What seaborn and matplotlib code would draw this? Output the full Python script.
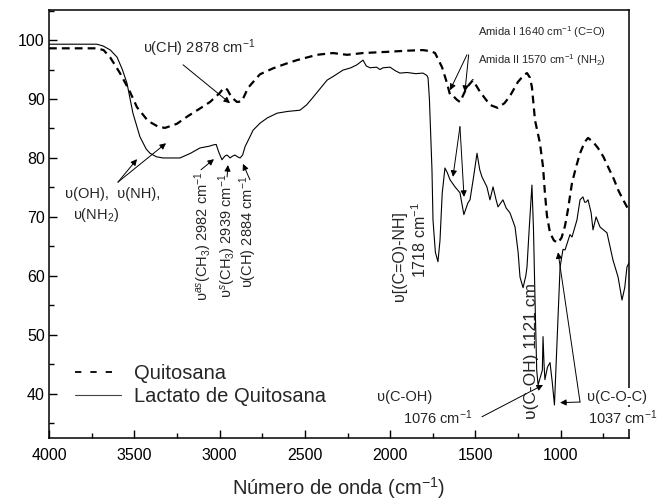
import numpy as np
import pandas as pd
import matplotlib
matplotlib.use("Agg")
import matplotlib.pyplot as plt
import seaborn as sns
from matplotlib.ticker import MultipleLocator
from matplotlib.lines import Line2D

# ---------------- data ----------------
quit_x = [4000, 3720, 3680, 3640, 3584, 3530, 3484, 3420, 3360, 3320, 3250, 3191, 3120,
          3056, 3000, 2975, 2955, 2930, 2898, 2870, 2833, 2800, 2763, 2687, 2600, 2546,
          2429, 2335, 2253, 2159, 2019, 1900, 1808, 1760, 1737, 1696, 1667, 1649, 1630,
          1610, 1591, 1550, 1515, 1473, 1415, 1370, 1330, 1298, 1251, 1215, 1198, 1180,
          1169, 1151, 1122, 1104, 1093, 1081, 1063, 1040, 1016, 995, 975, 958, 934, 910,
          887, 860, 840, 810, 782, 750, 723, 690, 664, 640, 612, 600]
quit_y = [98.6, 98.6, 98.3, 97.0, 94.4, 91.5, 88.6, 86.3, 85.3, 85.1, 85.8, 87.0, 88.3,
          89.5, 91.0, 91.9, 91.6, 90.3, 89.5, 89.6, 91.9, 93.0, 94.2, 95.2, 96.1, 96.6,
          97.5, 97.8, 97.5, 97.8, 98.0, 98.2, 98.3, 98.1, 97.8, 95.4, 92.7, 90.7, 90.5,
          89.9, 89.5, 92.0, 93.2, 91.2, 89.0, 88.5, 89.3, 90.5, 92.9, 94.1, 94.4, 93.6,
          92.0, 86.4, 82.5, 78.5, 74.1, 70.2, 67.3, 66.0, 65.6, 66.5, 68.5, 71.2, 75.8, 78.5,
          80.8, 82.7, 83.4, 82.7, 81.7, 80.2, 78.5, 76.5, 74.6, 73.2, 71.7, 71.2]

lact_x = [4000, 3720, 3683, 3640, 3601, 3570, 3543, 3508, 3467, 3430, 3408, 3370, 3332,
          3232, 3170, 3115, 3060, 3039, 3020, 3005, 2986, 2970, 2957, 2945, 2939, 2925,
          2910, 2895, 2880, 2865, 2851, 2822, 2804, 2763, 2720, 2663, 2600, 2529, 2490,
          2452, 2410, 2370, 2330, 2277, 2230, 2195, 2159, 2140, 2118, 2080, 2060, 2042,
          2001, 1970, 1943, 1900, 1850, 1808, 1785, 1778, 1770, 1767, 1755, 1749, 1735,
          1720, 1708, 1695, 1679, 1665, 1649, 1620, 1591, 1568, 1544, 1532, 1510, 1491,
          1475, 1462, 1433, 1415, 1397, 1380, 1368, 1339, 1320, 1298, 1268, 1250, 1239,
          1221, 1205, 1198, 1185, 1169, 1160, 1151, 1141, 1133, 1118, 1108, 1104, 1098, 1093,
          1078, 1063, 1050, 1037, 1020, 1004, 987, 975, 946, 934, 905, 887, 870, 860,
          852, 840, 822, 811, 793, 770, 729, 694, 664, 641, 625, 612, 600]
lact_y = [99.3, 99.3, 99.0, 98.3, 97.1, 95.0, 92.7, 87.6, 83.6, 81.5, 80.8, 80.2, 80.0,
          80.0, 80.8, 81.7, 82.0, 82.2, 82.3, 81.0, 79.7, 80.3, 80.5, 80.2, 80.0, 80.3,
          80.5, 80.2, 80.0, 80.5, 81.9, 83.6, 84.7, 85.9, 86.8, 87.6, 87.9, 88.1, 89.0,
          90.3, 91.8, 93.2, 93.9, 94.9, 95.3, 95.8, 96.6, 95.6, 95.3, 95.4, 95.0, 95.3,
          95.4, 94.8, 94.4, 94.5, 94.3, 94.4, 94.0, 93.6, 90.0, 87.6, 78.0, 69.5, 64.0,
          62.4, 66.0, 74.0, 78.3, 77.5, 76.3, 75.1, 74.1, 70.4, 72.4, 72.9, 77.0, 80.8,
          78.0, 76.8, 75.1, 72.9, 75.1, 73.0, 71.7, 72.9, 71.5, 70.7, 68.3, 64.0, 59.8,
          58.0, 60.0, 61.5, 68.0, 75.4, 68.0, 56.0, 44.0, 41.5, 43.0, 44.0, 49.7, 45.0, 42.4,
          44.5, 45.3, 42.0, 38.1, 50.0, 61.5, 64.5, 64.4, 67.0, 66.6, 69.5, 72.9, 73.4, 72.5,
          72.5, 72.9, 70.7, 67.8, 70.0, 68.3, 67.3, 62.7, 59.8, 55.9, 58.0, 61.5, 62.2]

series_labels = ["Quitosana", "Lactato de Quitosana"]
x_ticks = [4000, 3500, 3000, 2500, 2000, 1500, 1000]
y_ticks = [40, 50, 60, 70, 80, 90, 100]

# ---------------- style ----------------
sns.set_theme(style="ticks")
plt.rcParams["font.family"] = ["Liberation Sans", "DejaVu Sans"]
plt.rcParams["mathtext.fontset"] = "custom"
plt.rcParams["mathtext.rm"] = "Liberation Sans"
plt.rcParams["mathtext.it"] = "Liberation Sans:italic"
plt.rcParams["mathtext.bf"] = "Liberation Sans:bold"

fig = plt.figure(figsize=(6.61, 5.01), dpi=100)
ax = fig.add_axes([49 / 661, 1 - 438 / 501, 580 / 661, 428 / 501])

df_q = pd.DataFrame({"x": quit_x, "y": quit_y})
df_l = pd.DataFrame({"x": lact_x, "y": lact_y})

sns.lineplot(data=df_q, x="x", y="y", ax=ax, sort=False, estimator=None,
             color="black", lw=1.6)
ax.lines[-1].set_dashes([3.5, 2.3])
sns.lineplot(data=df_l, x="x", y="y", ax=ax, sort=False, estimator=None,
             color="black", lw=0.8)

ax.set_xlim(4000, 600)
ax.set_ylim(32.5, 105.1)
ax.set_xticks(x_ticks)
ax.set_yticks(y_ticks)
ax.xaxis.set_minor_locator(MultipleLocator(250))
ax.yaxis.set_minor_locator(MultipleLocator(5))
ax.tick_params(which="both", direction="in", top=False, right=False, colors="black",
               width=1.0)
ax.tick_params(which="major", length=6)
ax.tick_params(which="minor", length=3.5)
ax.tick_params(axis="x", labelsize=11.5, pad=7)
ax.tick_params(axis="y", labelsize=11.5, pad=3)
for s in ax.spines.values():
    s.set_visible(True)
    s.set_linewidth(1.1)
    s.set_color("black")
ax.set_xlabel("Número de onda (cm$^{-1}$)", fontsize=14.5, labelpad=9)
ax.set_ylabel("")

h_q = Line2D([], [], color="black", lw=1.3, dashes=[3.5, 5])
h_l = Line2D([], [], color="#444444", lw=0.8)
ax.legend([h_q, h_l], series_labels, loc="lower left",
          bbox_to_anchor=(0.045, 0.075), frameon=False, fontsize=14.5,
          handlelength=2.3, handletextpad=0.6, labelspacing=0.2,
          borderpad=0, borderaxespad=0)

# ---------------- annotations ----------------
ap = dict(arrowstyle="-|>", color="black", lw=0.7, mutation_scale=9, shrinkA=0, shrinkB=0)
fs = 10.5

ax.annotate("", xy=(2939, 89.3), xytext=(3214, 95.8), arrowprops=ap)
ax.text(3449, 98.6, "υ(CH) 2878 cm$^{-1}$", fontsize=fs, ha="left", va="center")

ax.text(3906, 73.9, "υ(OH),  υ(NH),", fontsize=fs, ha="left", va="center")
ax.text(3859, 70.3, "υ(NH$_2$)", fontsize=fs, ha="left", va="center")
ax.annotate("", xy=(3484, 79.8), xytext=(3596, 75.9), arrowprops=ap)
ax.annotate("", xy=(3314, 82.5), xytext=(3596, 75.9), arrowprops=ap)

ax.text(3097, 66.8, "υ$^{as}$(CH$_3$) 2982 cm$^{-1}$", fontsize=10.5, rotation=90,
        ha="center", va="center")
ax.text(2956, 66.8, "υ$^{s}$(CH$_3$) 2939 cm$^{-1}$", fontsize=10.5, rotation=90,
        ha="center", va="center")
ax.text(2833, 67.5, "υ(CH) 2884 cm$^{-1}$", fontsize=10.5, rotation=90,
        ha="center", va="center")
ax.annotate("", xy=(3033, 79.8), xytext=(3109, 78.0), arrowprops=ap)
ax.annotate("", xy=(2951, 78.8), xytext=(2956, 76.8), arrowprops=ap)
ax.annotate("", xy=(2863, 79.0), xytext=(2822, 76.3), arrowprops=ap)

ax.text(1948, 63.4, "υ[(C=O)-NH]", fontsize=11.5, rotation=90, ha="center", va="center")
ax.text(1825, 66.1, "1718 cm$^{-1}$", fontsize=11.5, rotation=90, ha="center", va="center")

ax.text(1485, 101.4, "Amida I 1640 cm$^{-1}$ (C=O)", fontsize=8, ha="left", va="center")
ax.text(1485, 96.6, "Amida II 1570 cm$^{-1}$ (NH$_2$)", fontsize=8, ha="left", va="center")
ax.annotate("", xy=(1649, 91.5), xytext=(1550, 97.5), arrowprops=ap)
ax.annotate("", xy=(1562, 91.2), xytext=(1540, 97.5), arrowprops=ap)
ax.annotate("", xy=(1632, 76.8), xytext=(1591, 85.3), arrowprops=ap)
ax.annotate("", xy=(1567, 73.4), xytext=(1591, 85.3), arrowprops=ap)

ax.text(2077, 39.5, "υ(C-OH)", fontsize=fs, ha="left", va="center")
ax.text(1925, 35.9, "1076 cm$^{-1}$", fontsize=fs, ha="left", va="center")
ax.annotate("", xy=(1104, 41.5), xytext=(1462, 36.1), arrowprops=ap)

ax.text(1174, 47.3, "υ(C-OH) 1121 cm", fontsize=12.5, rotation=90, ha="center", va="center")

ax.text(845, 39.5, "υ(C-O-C)", fontsize=fs, ha="left", va="center", clip_on=False,
        bbox=dict(fc="white", ec="none", pad=1))
ax.text(840, 35.9, "1037 cm$^{-1}$", fontsize=fs, ha="left", va="center", clip_on=False,
        bbox=dict(fc="white", ec="none", pad=1))
ax.annotate("", xy=(1004, 38.5), xytext=(887, 38.6), arrowprops=ap)
ax.annotate("", xy=(1016, 64.0), xytext=(887, 38.6), arrowprops=ap)

fig.savefig("out.png", dpi=100)
